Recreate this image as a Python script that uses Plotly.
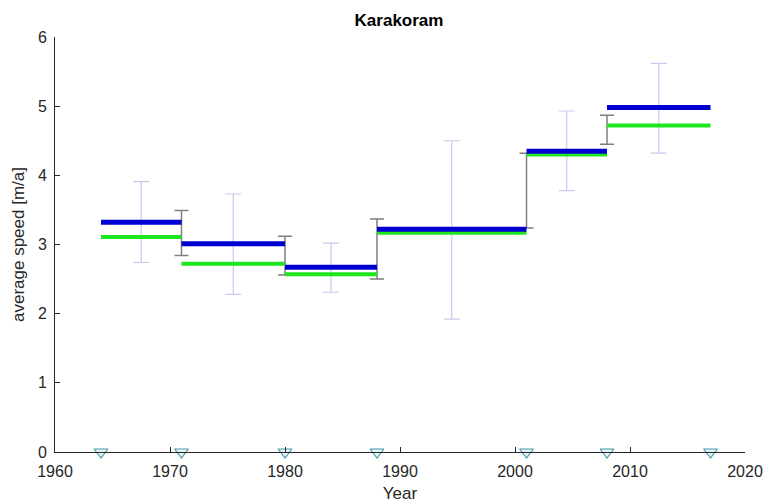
import plotly.graph_objects as go

# ---- data ----
period_start = [1964, 1971, 1980, 1988, 2001, 2008]
period_end = [1971, 1980, 1988, 2001, 2008, 2017]
speed_blue = [3.32, 3.01, 2.67, 3.22, 4.35, 4.98]
speed_green = [3.11, 2.72, 2.57, 3.17, 4.30, 4.72]
spread_mid = [1967.5, 1975.5, 1984.0, 1994.5, 2004.5, 2012.5]
spread_hi = [3.91, 3.73, 3.02, 4.50, 4.93, 5.62]
spread_lo = [2.74, 2.28, 2.31, 1.92, 3.78, 4.32]
change_years = [1971, 1980, 1988, 2001, 2008]
change_hi = [3.49, 3.12, 3.37, 4.32, 4.87]
change_lo = [2.84, 2.56, 2.50, 3.24, 4.45]
image_years = [1964, 1971, 1980, 1988, 2001, 2008, 2017]

def steps(values):
    xs, ys = [], []
    for a, b, v in zip(period_start, period_end, values):
        xs += [a, b, None]
        ys += [v, v, None]
    return xs, ys

fig = go.Figure()

# light spread error bars
mid_y = [(h + l) / 2 for h, l in zip(spread_hi, spread_lo)]
fig.add_trace(go.Scatter(
    x=spread_mid, y=mid_y, mode="markers",
    marker=dict(size=1, color="rgba(0,0,0,0)"),
    error_y=dict(type="data", symmetric=False,
                 array=[h - m for h, m in zip(spread_hi, mid_y)],
                 arrayminus=[m - l for l, m in zip(spread_lo, mid_y)],
                 color="#c9c9ef", thickness=1.2, width=8),
    showlegend=False, hoverinfo="skip"))

# gray change error bars
cmid = [(h + l) / 2 for h, l in zip(change_hi, change_lo)]
fig.add_trace(go.Scatter(
    x=change_years, y=cmid, mode="markers",
    marker=dict(size=1, color="rgba(0,0,0,0)"),
    error_y=dict(type="data", symmetric=False,
                 array=[h - m for h, m in zip(change_hi, cmid)],
                 arrayminus=[m - l for l, m in zip(change_lo, cmid)],
                 color="#7f7f7f", thickness=1.5, width=7),
    showlegend=False, hoverinfo="skip"))

gx, gy = steps(speed_green)
fig.add_trace(go.Scatter(x=gx, y=gy, mode="lines",
                         line=dict(color="#1ee61e", width=4),
                         showlegend=False, connectgaps=False))
bx, by = steps(speed_blue)
fig.add_trace(go.Scatter(x=bx, y=by, mode="lines",
                         line=dict(color="#0000d2", width=5),
                         showlegend=False, connectgaps=False))

fig.add_trace(go.Scatter(
    x=image_years, y=[0] * len(image_years), mode="markers",
    marker=dict(symbol="triangle-down", size=12, color="#e6f4f7",
                line=dict(color="#4a98ac", width=1.2)),
    cliponaxis=False, showlegend=False))

FONT = "Liberation Sans, Arial, sans-serif"
axis_font = dict(family=FONT, size=16, color="#262626")
title_font = dict(family=FONT, size=17, color="#262626")

fig.update_layout(
    width=765, height=503,
    margin=dict(l=55, r=20, t=37, b=51),
    paper_bgcolor="white", plot_bgcolor="white",
    title=dict(text="<b>Karakoram</b>", x=399 / 765, xanchor="center",
               y=1 - 20 / 503, yanchor="middle", yref="container",
               font=dict(family=FONT, size=17, color="#000000")),
    xaxis=dict(range=[1960, 2020], dtick=10, tick0=1960, ticks="inside", ticklen=5,
               tickcolor="#262626", showline=True, linecolor="#262626", linewidth=1,
               showgrid=False, zeroline=False, tickfont=axis_font, automargin=False,
               ticklabelstandoff=5,
               title=dict(text="Year", font=title_font, standoff=9)),
    yaxis=dict(range=[0, 6], dtick=1, ticks="inside", ticklen=5,
               tickcolor="#262626", showline=True, linecolor="#262626", linewidth=1,
               showgrid=False, zeroline=False, tickfont=axis_font, automargin=False,
               ticklabelstandoff=4,
               title=dict(text="average speed [m/a]", font=title_font, standoff=8)),
)

fig.write_html("out.html", config={"displayModeBar": False},
               post_script="document.body.style.margin='0px';")
